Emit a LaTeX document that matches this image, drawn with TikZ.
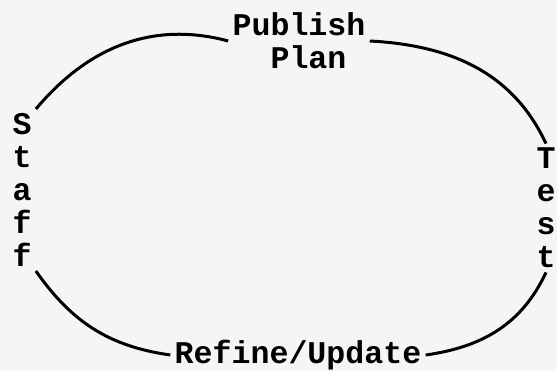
\documentclass[tikz,border=0pt]{standalone}
\usepackage{fontspec}
\setmonofont{Liberation Mono}
\definecolor{paper}{RGB}{245,245,245}
\tikzstyle{phase}=[align=center,inner sep=2pt,font=\ttfamily\bfseries\fontsize{15.8}{16.5}\selectfont]
\tikzstyle{loopline}=[line width=1.5pt]

\begin{document}
\begin{tikzpicture}[x=0.5pt,y=0.5pt]
\path[use as bounding box,fill=paper] (0,0) rectangle (557,371);
\node[phase] (publish) at (299,330) {Publish\\\hspace*{9.5pt}Plan};
\node[phase] (staff) at (22,181) {S\\t\\a\\f\\f};
\node[phase] (test) at (546,163) {T\\e\\s\\t};
\node[phase] (refine) at (298,16) {Refine/Update};
\draw[loopline] (publish.west) to[out=165,in=50] (staff.north east);
\draw[loopline] (staff.south east) to[out=-55,in=172] (refine.west);
\draw[loopline] (refine.east) to[out=8,in=-115] (test.south);
\draw[loopline] (publish.east) to[out=-3,in=115] (test.north);
\end{tikzpicture}
\end{document}
